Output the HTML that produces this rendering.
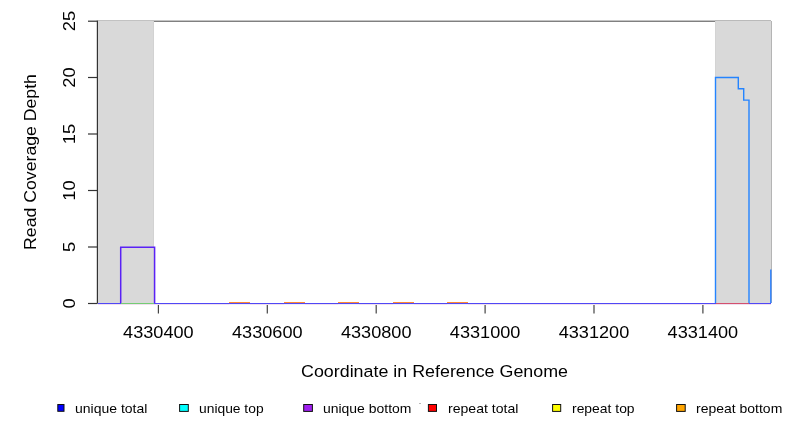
<!DOCTYPE html>
<html><head><meta charset="utf-8"><style>
html,body{margin:0;padding:0;background:#fff;width:792px;height:432px;overflow:hidden}
svg{display:block}
text{font-family:"Liberation Sans",sans-serif;fill:#000}
.t{opacity:0.999}
</style></head><body>
<svg width="792" height="432" viewBox="0 0 792 432">
<!-- top line -->
<g shape-rendering="crispEdges">
<rect x="154" y="20" width="561" height="1" fill="#c4c4c4"/>
<rect x="154" y="21" width="561" height="1" fill="#808080"/>
<!-- gray regions -->
<rect x="98" y="20" width="56" height="283" fill="#d9d9d9"/>
<rect x="98" y="20" width="56" height="1" fill="#c2c2c2"/>
<rect x="153" y="21" width="1" height="282" fill="#d2d2d2"/>
<rect x="715" y="20" width="56" height="283" fill="#d9d9d9"/>
<rect x="715" y="21" width="1" height="282" fill="#d3d3d3"/>
<rect x="715" y="20" width="56" height="1" fill="#bababa"/>
<rect x="771" y="21" width="1" height="282" fill="#b4b4b4"/>
</g>
<!-- y axis -->
<g stroke="#333" stroke-width="1.2" fill="none">
<line x1="97.4" y1="20.6" x2="97.4" y2="303.5"/>
<line x1="88" y1="303.5" x2="97.4" y2="303.5"/>
<line x1="88" y1="247" x2="97.4" y2="247"/>
<line x1="88" y1="190.5" x2="97.4" y2="190.5"/>
<line x1="88" y1="134" x2="97.4" y2="134"/>
<line x1="88" y1="77.5" x2="97.4" y2="77.5"/>
<line x1="88" y1="21.2" x2="97.4" y2="21.2"/>
</g>
<!-- x ticks -->
<g stroke="#444" stroke-width="1.2">
<line x1="158.4" y1="303.6" x2="158.4" y2="313.4"/>
<line x1="267.3" y1="303.6" x2="267.3" y2="313.4"/>
<line x1="376.2" y1="303.6" x2="376.2" y2="313.4"/>
<line x1="485.1" y1="303.6" x2="485.1" y2="313.4"/>
<line x1="594" y1="303.6" x2="594" y2="313.4"/>
<line x1="702.9" y1="303.6" x2="702.9" y2="313.4"/>
</g>
<!-- baseline -->
<g shape-rendering="crispEdges">
<rect x="98" y="304" width="673" height="1" fill="#f0e0ee"/>
<rect x="229" y="304" width="21" height="1" fill="#eeeefe"/><rect x="284" y="304" width="21" height="1" fill="#eeeefe"/><rect x="338" y="304" width="21" height="1" fill="#eeeefe"/><rect x="393" y="304" width="21" height="1" fill="#eeeefe"/><rect x="447" y="304" width="21" height="1" fill="#eeeefe"/>
<rect x="229" y="302" width="21" height="1" fill="#ff8a32"/><rect x="284" y="302" width="21" height="1" fill="#ff8a32"/><rect x="338" y="302" width="21" height="1" fill="#ff8a32"/><rect x="393" y="302" width="21" height="1" fill="#ff8a32"/><rect x="447" y="302" width="21" height="1" fill="#ff8a32"/>
<rect x="98" y="303" width="23" height="1" fill="#5048f6"/>
<rect x="121" y="303" width="33" height="1" fill="#74cc74"/>
<rect x="154" y="303" width="562" height="1" fill="#5048f6"/>
<rect x="716" y="303" width="33" height="1" fill="#d4506e"/>
<rect x="749" y="303" width="22" height="1" fill="#5048f6"/>
</g>
<!-- left bump -->
<polyline points="120.7,303 120.7,247.2 154.6,247.2 154.6,303" stroke="#5a22f6" stroke-width="1.5" fill="none"/>
<!-- right peak -->
<polyline points="715.5,303 715.5,77.5 738.3,77.5 738.3,88.8 743.7,88.8 743.7,100.1 749,100.1 749,303" stroke="#2484ff" stroke-width="1.4" fill="none"/>
<line x1="770.8" y1="303" x2="770.8" y2="269.4" stroke="#2a80ff" stroke-width="1.4"/>
<g class="t">
<!-- y tick labels -->
<g font-size="16.9">
<text transform="translate(75,303.5) rotate(-90)" text-anchor="middle" textLength="10.2" lengthAdjust="spacingAndGlyphs">0</text>
<text transform="translate(75,247) rotate(-90)" text-anchor="middle" textLength="10.2" lengthAdjust="spacingAndGlyphs">5</text>
<text transform="translate(75,190.5) rotate(-90)" text-anchor="middle" textLength="20.4" lengthAdjust="spacingAndGlyphs">10</text>
<text transform="translate(75,134) rotate(-90)" text-anchor="middle" textLength="20.4" lengthAdjust="spacingAndGlyphs">15</text>
<text transform="translate(75,77.5) rotate(-90)" text-anchor="middle" textLength="20.4" lengthAdjust="spacingAndGlyphs">20</text>
<text transform="translate(75,21) rotate(-90)" text-anchor="middle" textLength="20.4" lengthAdjust="spacingAndGlyphs">25</text>
</g>
<!-- x tick labels -->
<g font-size="16.9" text-anchor="middle">
<text x="158.4" y="338" textLength="70.6" lengthAdjust="spacingAndGlyphs">4330400</text>
<text x="267.3" y="338" textLength="70.6" lengthAdjust="spacingAndGlyphs">4330600</text>
<text x="376.2" y="338" textLength="70.6" lengthAdjust="spacingAndGlyphs">4330800</text>
<text x="485.1" y="338" textLength="70.6" lengthAdjust="spacingAndGlyphs">4331000</text>
<text x="594" y="338" textLength="70.6" lengthAdjust="spacingAndGlyphs">4331200</text>
<text x="702.9" y="338" textLength="70.6" lengthAdjust="spacingAndGlyphs">4331400</text>
</g>
<!-- axis titles -->
<text x="434.5" y="377" font-size="16.9" text-anchor="middle" textLength="267" lengthAdjust="spacingAndGlyphs">Coordinate in Reference Genome</text>
<text transform="translate(36,162) rotate(-90)" font-size="16.9" text-anchor="middle" textLength="175.8" lengthAdjust="spacingAndGlyphs">Read Coverage Depth</text>
<!-- legend -->
<rect x="419" y="403" width="2" height="1" fill="#b8b8b8" shape-rendering="crispEdges"/>
<g stroke="#111" stroke-width="1">
<rect x="57.8" y="404.5" width="6.2" height="6.8" fill="#0000ff"/>
<rect x="179.6" y="404.5" width="8.7" height="6.9" fill="#00ffff"/>
<rect x="303.7" y="404.5" width="8.7" height="6.9" fill="#a020f0"/>
<rect x="428.4" y="404.5" width="8.1" height="6.9" fill="#ff0000"/>
<rect x="552.6" y="404.5" width="8.1" height="6.9" fill="#ffff00"/>
<rect x="676.6" y="404.5" width="8.6" height="6.9" fill="#ffa500"/>
</g>
<g font-size="12.6">
<text x="75" y="413" textLength="72.4" lengthAdjust="spacingAndGlyphs">unique total</text>
<text x="199" y="413" textLength="64.6" lengthAdjust="spacingAndGlyphs">unique top</text>
<text x="323" y="413" textLength="88.4" lengthAdjust="spacingAndGlyphs">unique bottom</text>
<text x="448" y="413" textLength="70.4" lengthAdjust="spacingAndGlyphs">repeat total</text>
<text x="572" y="413" textLength="62.6" lengthAdjust="spacingAndGlyphs">repeat top</text>
<text x="696" y="413" textLength="86.3" lengthAdjust="spacingAndGlyphs">repeat bottom</text>
</g>
</g>
</svg>
</body></html>
